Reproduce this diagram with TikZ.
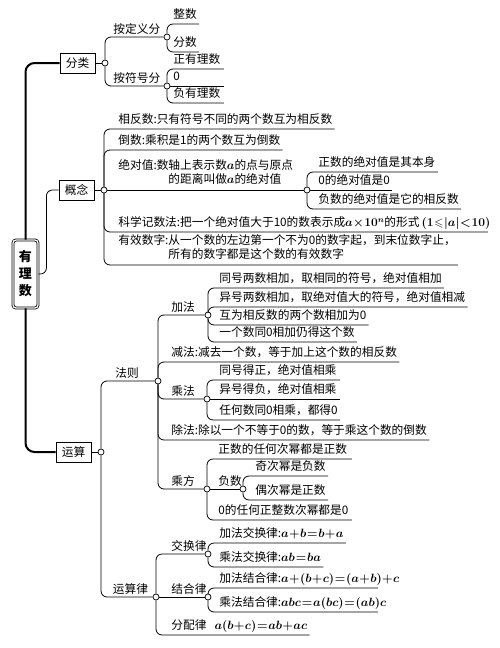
\documentclass[tikz,border=0pt]{standalone}
\usepackage{amsmath,amssymb}
\usepackage{fontspec}
\newfontfamily\cjk{Noto Sans CJK SC}
\newcommand{\zh}{\cjk\fontsize{11.7}{13.5}\selectfont\boldmath\medmuskip=0.5mu\thickmuskip=1mu}

\begin{document}
\begin{tikzpicture}[x=1pt, y=-1pt, line width=0.8pt,
    box/.style={draw, line width=1pt, minimum width=35pt, minimum height=20pt, inner sep=2pt, font=\zh},
    lbl/.style={anchor=south west, inner xsep=2pt, inner ysep=2.5pt, font=\zh},
    leaf/.style={lbl, text depth=0.25em},
    fw/.style={text width=#1, align=left},
    jt/.style={circle, draw, fill=white, inner sep=0pt, minimum size=6pt, line width=0.7pt},
    br/.style={rounded corners=6pt},
    trunk/.style={line width=2pt, rounded corners=9pt}]

    \useasboundingbox (0,0) rectangle (500,648);

    % 1. 根节点与三个一级节点
    \node[draw, double, double distance=1.3pt, rounded corners=3pt, minimum width=25pt,
          minimum height=68pt, align=center, font=\cjk\fontsize{13}{17}\selectfont\bfseries]
          (root) at (25.5,274) {有\\理\\数};
    \node[box] (fl) at (77.5,63) {分类};
    \node[box] (gn) at (76.5,190) {概念};
    \node[box] (ys) at (73.5,452) {运算};
    \node[jt] (flJ) at (105,63) {};
    \node[jt] (gnJ) at (104,190) {};
    \node[jt] (ysJ) at (101,452) {};

    \draw[trunk] (root.north) |- (fl.west);
    \draw[trunk] (root.south) |- (ys.west);
    \draw[br] (root.east) -- ++(8,0) |- (gn.west);
    \draw (fl) -- (flJ);
    \draw (gn) -- (gnJ);
    \draw (ys) -- (ysJ);

    % 2. 分类
    \node[jt] (dyJ) at (167,37) {};
    \node[lbl] (dy) at (111,37) {按定义分};
    \node[jt] (fhJ) at (167,86) {};
    \node[lbl] (fh) at (111,86) {按符号分};
    \draw[br] (flJ) |- (dyJ);
    \draw[br] (flJ) |- (fhJ);

    \node[leaf] (zs) at (171,24) {整数};
    \node[leaf] (fs) at (171,52) {分数};
    \draw[br] (dyJ) |- (zs.south east);
    \draw[br] (dyJ) |- (fs.south east);

    \node[leaf, fw=48pt] (zyl) at (171,69) {正有理数};
    \node[leaf, fw=48pt] (ling) at (171,86) {0};
    \node[leaf, fw=48pt] (fyl) at (171,103) {负有理数};
    \draw[br] (fhJ) |- (zyl.south east);
    \draw (fhJ) -- (ling.south east);
    \draw[br] (fhJ) |- (fyl.south east);

    % 3. 概念
    \node[leaf] (xfs) at (116,129) {相反数:只有符号不同的两个数互为相反数};
    \node[leaf] (ds) at (116,150) {倒数:乘积是1的两个数互为倒数};
    \node[lbl] (jdz) at (116,190) {绝对值:\begin{tabular}[t]{@{}c@{}}数轴上表示数$a$的点与原点\\的距离叫做$a$的绝对值\end{tabular}};
    \node[jt] (jdzJ) at (307,190) {};
    \node[leaf, fw=367pt] (kx) at (116,232) {\mbox{科学记数法:把一个绝对值大于10的数表示成$a\times10^n$的形式\,$(1\leqslant|a|<10)$}};
    \node[lbl] (yx) at (116,265) {有效数字:\begin{tabular}[t]{@{}l@{}}从一个数的左边第一个不为0的数字起，到末位数字止，\\所有的数字都是这个数的有效数字\end{tabular}};
    \foreach \n in {xfs,ds,kx,yx}
        \draw[br] (gnJ) |- (\n.south east);
    \draw (gnJ) -- (jdzJ);

    \node[leaf] (jd1) at (316,172) {正数的绝对值是其本身};
    \node[leaf] (jd2) at (316,190) {0的绝对值是0};
    \node[leaf] (jd3) at (316,209) {负数的绝对值是它的相反数};
    \draw[br] (jdzJ) |- (jd1.south east);
    \draw (jdzJ) -- (jd2.south east);
    \draw[br] (jdzJ) |- (jd3.south east);

    % 4. 运算 -- 法则
    \node[jt] (fzJ) at (158,381) {};
    \node[lbl] (fz) at (113,381) {法则};
    \node[jt] (ylJ) at (156,597) {};
    \node[lbl] (yl) at (110.5,597) {运算律};
    \draw[br] (ysJ) |- (fzJ);
    \draw[br] (ysJ) |- (ylJ);

    \node[jt] (jfJ) at (208,315) {};
    \node[lbl] (jf) at (169,315) {加法};
    \node[leaf] (jian) at (169,362) {减法:减去一个数，等于加上这个数的相反数};
    \node[jt] (cfJ) at (207,399) {};
    \node[lbl] (cf) at (169,399) {乘法};
    \node[leaf] (chu) at (169,440) {除法:除以一个不等于0的数，等于乘这个数的倒数};
    \node[jt] (cfangJ) at (207,489) {};
    \node[lbl] (cfang) at (169,489) {乘方};
    \draw[br] (fzJ) |- (jfJ);
    \draw[br] (fzJ) |- (jian.south east);
    \draw[br] (fzJ) |- (cfJ);
    \draw[br] (fzJ) |- (chu.south east);
    \draw[br] (fzJ) |- (cfangJ);

    \node[leaf] (jf1) at (217,288) {同号两数相加，取相同的符号，绝对值相加};
    \node[leaf] (jf2) at (217,307) {异号两数相加，取绝对值大的符号，绝对值相减};
    \node[leaf] (jf3) at (217,325) {互为相反数的两个数相加为0};
    \node[leaf] (jf4) at (217,342) {一个数同0相加仍得这个数};
    \foreach \n in {jf1,jf2,jf3,jf4}
        \draw[br] (jfJ) |- (\n.south east);

    \node[leaf, fw=118pt] (cf1) at (217,380) {同号得正，绝对值相乘};
    \node[leaf, fw=118pt] (cf2) at (217,399) {异号得负，绝对值相乘};
    \node[leaf, fw=118pt] (cf3) at (217,420) {任何数同0相乘，都得0};
    \draw[br] (cfJ) |- (cf1.south east);
    \draw (cfJ) -- (cf2.south east);
    \draw[br] (cfJ) |- (cf3.south east);

    \node[leaf, fw=131pt] (cf4) at (216,459) {正数的任何次幂都是正数};
    \node[jt] (fsJ) at (243,489) {};
    \node[lbl] (fsn) at (216,489) {负数};
    \node[leaf, fw=131pt] (cf5) at (216,520) {0的任何正整数次幂都是0};
    \draw[br] (cfangJ) |- (cf4.south east);
    \draw (cfangJ) -- (fsJ);
    \draw[br] (cfangJ) |- (cf5.south east);

    \node[leaf] (jc) at (253,476) {奇次幂是负数};
    \node[leaf] (oc) at (253,500) {偶次幂是正数};
    \draw[br] (fsJ) |- (jc.south east);
    \draw[br] (fsJ) |- (oc.south east);

    % 5. 运算 -- 运算律
    \node[jt] (jhJ) at (208,554) {};
    \node[lbl] (jh) at (169,554) {交换律};
    \node[jt] (jhlJ) at (208,597) {};
    \node[lbl] (jhl) at (169,597) {结合律};
    \node[leaf] (fp) at (169,635) {分配律\hspace{8pt}$a(b+c)=ab+ac$};
    \draw[br] (ylJ) |- (jhJ);
    \draw (ylJ) -- (jhlJ);
    \draw[br] (ylJ) |- (fp.south east);

    \node[leaf] (jh1) at (217,543) {加法交换律:$a+b=b+a$};
    \node[leaf] (jh2) at (217,567) {乘法交换律:$ab=ba$};
    \draw[br] (jhJ) |- (jh1.south east);
    \draw[br] (jhJ) |- (jh2.south east);

    \node[leaf, fw=156pt] (jhl1) at (217,588) {\mbox{加法结合律:$a+(b+c)=(a+b)+c$}};
    \node[leaf, fw=156pt] (jhl2) at (217,612) {\mbox{乘法结合律:$abc=a(bc)=(ab)c$}};
    \draw[br] (jhlJ) |- (jhl1.south east);
    \draw[br] (jhlJ) |- (jhl2.south east);

\end{tikzpicture}
\end{document}
